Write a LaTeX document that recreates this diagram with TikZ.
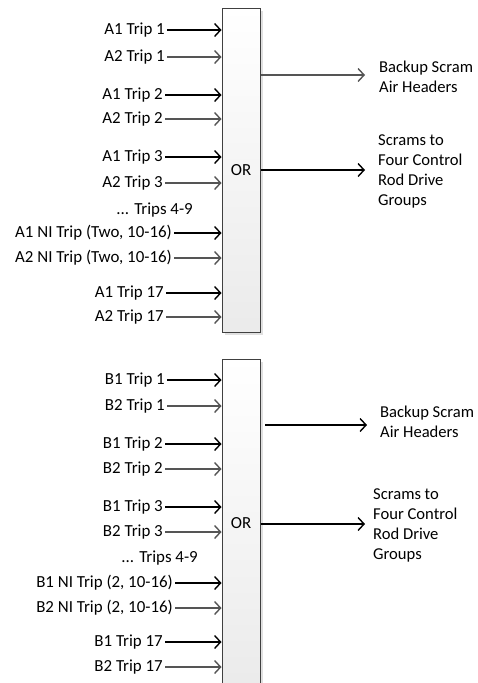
\documentclass[tikz,border=0pt]{standalone}
\usepackage{fontspec}
\setmainfont{Carlito}
\usetikzlibrary{arrows.meta,shadows}
\definecolor{wiregray}{HTML}{555555}

\begin{document}
\begin{tikzpicture}[x=1pt,y=-1pt]
  \tikzset{
    lbl/.style={anchor=east, inner xsep=2pt, inner ysep=0pt, font=\fontsize{16.9}{20}\selectfont},
    outlbl/.style={anchor=west, align=left, inner sep=0pt, font=\fontsize{16.6}{20}\selectfont},
    gate/.style={draw=black!75, line width=1pt, top color=white, bottom color=black!8,
      minimum width=38pt, inner sep=0pt, font=\fontsize{16.9}{20}\selectfont,
      drop shadow={shadow xshift=3pt, shadow yshift=-3pt, fill=black!12, opacity=1}},
    sig/.style={-{Straight Barb[length=6pt,width=13pt]}, line width=1.4pt},
  }
  \useasboundingbox (0,0) rectangle (477,683);

  % Gates
  \node[gate, minimum height=324pt] (ora) at (241,170) {OR};
  \node[gate, minimum height=328pt] (orb) at (241,523) {OR};

  % Inputs, A side
  \foreach \y/\s/\c/\t [count=\i] in {30/167/black/A1 Trip 1, 57/167/wiregray/A2 Trip 1,
      95/165/black/A1 Trip 2, 119/165/wiregray/A2 Trip 2,
      157/165/black/A1 Trip 3, 183/165/wiregray/A2 Trip 3,
      233/174/black/{A1 NI Trip (Two, 10-16)}, 258/174/wiregray/{A2 NI Trip (Two, 10-16)},
      293/166/black/A1 Trip 17, 317/166/wiregray/A2 Trip 17} {
    \node[lbl] (ta\i) at (\s,\y) {\t};
    \draw[sig, \c] (ta\i.east) -- (ta\i.east -| ora.west);
  }
  \node[lbl] (mida) at (195,210) {... Trips 4-9};

  % Inputs, B side
  \foreach \y/\s/\c/\t [count=\i] in {380/167/black/B1 Trip 1, 406/167/wiregray/B2 Trip 1,
      444/165/black/B1 Trip 2, 469/165/wiregray/B2 Trip 2,
      507/165/black/B1 Trip 3, 532/165/wiregray/B2 Trip 3,
      583/175/black/{B1 NI Trip (2, 10-16)}, 608/175/wiregray/{B2 NI Trip (2, 10-16)},
      642/165/black/B1 Trip 17, 667/165/wiregray/B2 Trip 17} {
    \node[lbl] (tb\i) at (\s,\y) {\t};
    \draw[sig, \c] (tb\i.east) -- (tb\i.east -| orb.west);
  }
  \node[lbl] (midb) at (200,558) {... Trips 4-9};

  % Outputs, A side
  \coordinate (bka) at (365,75);
  \coordinate (sca) at (365,170);
  \draw[sig, wiregray] (ora.east |- bka) -- (bka);
  \draw[sig] (ora.east |- sca) -- (sca);
  \node[outlbl] (bkta) at (379,77) {Backup Scram\\Air Headers};
  \node[outlbl] (scta) at (378,171) {Scrams to\\Four Control\\Rod Drive\\Groups};

  % Outputs, B side
  \coordinate (bkb0) at (265,425);
  \coordinate (bkb) at (367,425);
  \coordinate (scb) at (365,524);
  \draw[sig] (bkb0) -- (bkb);
  \draw[sig] (orb.east |- scb) -- (scb);
  \node[outlbl] (bktb) at (380,422) {Backup Scram\\Air Headers};
  \node[outlbl] (sctb) at (373,525) {Scrams to\\Four Control\\Rod Drive\\Groups};
\end{tikzpicture}
\end{document}
